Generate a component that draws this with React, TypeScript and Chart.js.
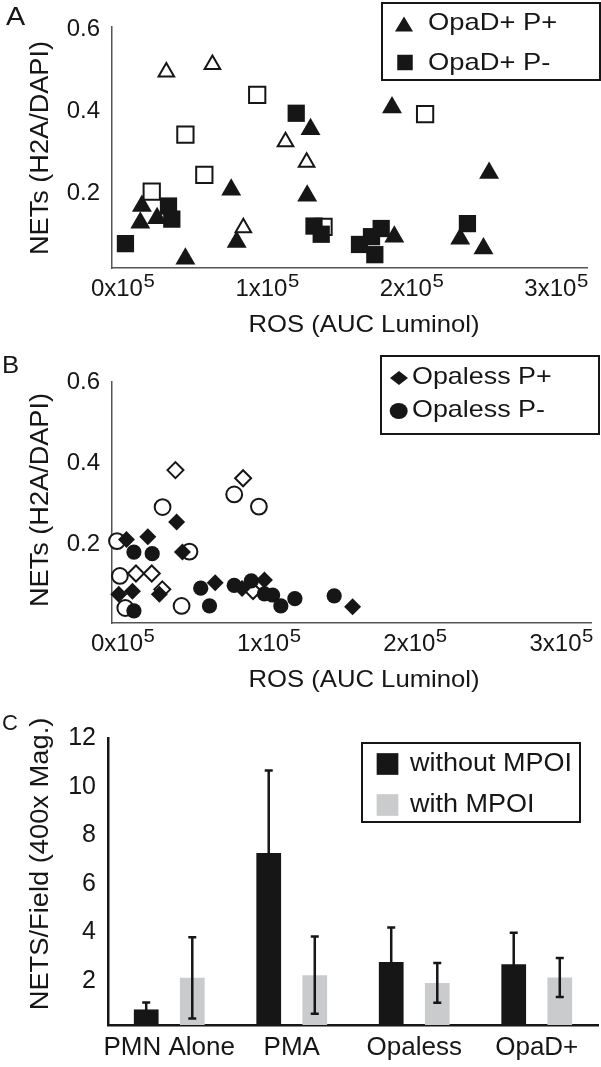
import React, { useEffect, useRef } from 'react';
import { Chart, registerables } from 'chart.js';

Chart.register(...registerables);

const FONT_FAMILY = '"Liberation Sans", Arial, Helvetica, sans-serif';
const INK = '#161616';
const AXIS_GRAY = '#555555';
const BAR_GRAY = '#cacbcc';

// ---------------- Panel A: OpaD+ (ROS vs NETs) ----------------
const opadPPlusLabel = 'OpaD+ P+';
const opadPPlusRos = [17300, 16200, 27800, 79100, 82900, 47400, 134000, 131700, 190400, 192000, 257600, 237600, 253700];
const opadPPlusNets = [0.168, 0.127, 0.138, 0.208, 0.080, 0.039, 0.356, 0.193, 0.409, 0.093, 0.249, 0.088, 0.064];
const opadPPlusOpenRos = [34200, 66100, 87500, 116700, 131300];
const opadPPlusOpenNets = [0.496, 0.514, 0.115, 0.325, 0.275];
const opadPMinusLabel = 'OpaD+ P-';
const opadPMinusRos = [5900, 35700, 38000, 124100, 136400, 141400, 167900, 176200, 182900, 178500, 242600];
const opadPMinusNets = [0.076, 0.168, 0.136, 0.395, 0.119, 0.099, 0.074, 0.093, 0.113, 0.049, 0.125];
const opadPMinusOpenRos = [97100, 47400, 60500, 24100, 213300, 143000];
const opadPMinusOpenNets = [0.440, 0.343, 0.244, 0.203, 0.393, 0.117];

// ---------------- Panel B: Opaless (ROS vs NETs) ----------------
const opalessPPlusLabel = 'Opaless P+';
const opalessPPlusRos = [6500, 21100, 40800, 44800, 1200, 10600, 29000, 67200, 85600, 100900, 161200];
const opalessPPlusNets = [0.213, 0.220, 0.256, 0.182, 0.078, 0.085, 0.078, 0.106, 0.092, 0.113, 0.047];
const opalessPPlusOpenRos = [40000, 86300, 13000, 23800, 31000, 93100];
const opalessPPlusOpenNets = [0.384, 0.364, 0.129, 0.129, 0.090, 0.086];
const opalessPMinusLabel = 'Opaless P-';
const opalessPMinusRos = [11600, 24100, 11600, 57300, 63300, 80200, 91900, 100900, 106500, 112100, 121700, 148600];
const opalessPMinusNets = [0.182, 0.178, 0.037, 0.093, 0.049, 0.100, 0.111, 0.079, 0.076, 0.049, 0.067, 0.074];
const opalessPMinusOpenRos = [0, 31200, 80200, 97100, 2000, 5700, 44200, 49600];
const opalessPMinusOpenNets = [0.209, 0.293, 0.324, 0.294, 0.123, 0.044, 0.049, 0.183];

const scatterYTicks = [0.2, 0.4, 0.6];
const rosTicks = [0, 100000, 200000, 300000];
const rosExponent = '5';
const rosTitle = 'ROS (AUC Luminol)';
const netsTitle = 'NETs (H2A/DAPI)';

// ---------------- Panel C: NETs per field ----------------
const barCategories = ['PMN Alone', 'PMA', 'Opaless', 'OpaD+'];
const withoutMpoiLabel = 'without MPOI';
const withoutMpoi = [0.84, 7.27, 2.79, 2.70];
const withoutMpoiErr = [0.29, 3.39, 1.42, 1.29];
const withMpoiLabel = 'with MPOI';
const withMpoi = [2.14, 2.25, 1.93, 2.15];
const withMpoiErr = [1.67, 1.59, 0.82, 0.80];
const barYTicks = [2, 4, 6, 8, 10, 12];
const barYTitle = 'NETS/Field (400x Mag.)';

// ---------------- drawing helpers ----------------
function drawText(ctx: any, text: string, x: number, y: number, size: number, sx: number,
  rot: number, align: string, baseline: string) {
  ctx.save();
  ctx.translate(x, y);
  ctx.rotate(rot);
  ctx.scale(sx, 1);
  ctx.font = `${size}px ${FONT_FAMILY}`;
  ctx.textAlign = align;
  ctx.textBaseline = baseline;
  ctx.fillStyle = INK;
  ctx.fillText(text, 0, 0);
  ctx.restore();
}

function drawMarker(ctx: any, shape: string, cx: number, cy: number, w: number, h: number, color: string) {
  ctx.save();
  ctx.fillStyle = color;
  ctx.beginPath();
  if (shape === 'triangle') {
    ctx.moveTo(cx, cy - h / 2);
    ctx.lineTo(cx + w / 2, cy + h / 2);
    ctx.lineTo(cx - w / 2, cy + h / 2);
  } else if (shape === 'diamond') {
    ctx.moveTo(cx, cy - h / 2);
    ctx.lineTo(cx + w / 2, cy);
    ctx.lineTo(cx, cy + h / 2);
    ctx.lineTo(cx - w / 2, cy);
  } else if (shape === 'circle') {
    ctx.ellipse(cx, cy, w / 2, h / 2, 0, 0, Math.PI * 2);
  } else {
    ctx.rect(cx - w / 2, cy - h / 2, w, h);
  }
  ctx.closePath();
  ctx.fill();
  ctx.restore();
}

function decorPlugin(spec: any) {
  return {
    id: 'decor',
    afterDraw(chart: any) {
      const ctx = chart.ctx;
      const L = spec.letter;
      drawText(ctx, L.text, L.x, L.y, L.size, L.sx, 0, 'left', 'alphabetic');
      const yt = spec.yTitle;
      drawText(ctx, yt.text, yt.x, yt.y, yt.size, yt.sx, -Math.PI / 2, 'center', 'middle');
      if (spec.xTitle) {
        const xt = spec.xTitle;
        drawText(ctx, xt.text, xt.x, xt.y, xt.size, xt.sx, 0, 'center', 'middle');
      }
      if (spec.superscripts) {
        // exponent of the "Nx10" tick labels, placed after each native tick label
        const xs = chart.scales.x;
        const base = chart.chartArea.bottom;
        ctx.save();
        ctx.font = `24px ${FONT_FAMILY}`;
        xs.ticks.forEach((t: any) => {
          const main = `${t.value / 100000}x10`;
          const w = ctx.measureText(main).width;
          drawText(ctx, rosExponent, xs.getPixelForValue(t.value) + w / 2 + 0.5, base + 19, 18.5, 1.1, 0, 'left', 'alphabetic');
        });
        ctx.restore();
      }
      const lg = spec.legend;
      ctx.save();
      ctx.fillStyle = '#ffffff';
      ctx.fillRect(lg.box[0], lg.box[1], lg.box[2], lg.box[3]);
      ctx.lineWidth = lg.lineWidth;
      ctx.strokeStyle = INK;
      ctx.strokeRect(lg.box[0], lg.box[1], lg.box[2], lg.box[3]);
      ctx.restore();
      lg.items.forEach((it: any) => {
        drawMarker(ctx, it.shape, it.cx, it.cy, it.w, it.h, it.color);
        drawText(ctx, it.text, lg.textX, it.ty, lg.size, lg.sx, 0, 'left', 'middle');
      });
    },
  };
}

function makeSeries(label: string, ros: number[], nets: number[], style: string, radius: number, filled: boolean) {
  return {
    label,
    data: ros.map((x, i) => ({ x, y: nets[i] })),
    pointStyle: style,
    pointRadius: radius,
    pointHoverRadius: radius,
    pointBackgroundColor: filled ? INK : '#ffffff',
    pointBorderColor: INK,
    pointBorderWidth: filled ? 0 : 2,
    clip: false,
  };
}

function makeScatter(canvas: HTMLCanvasElement, spec: any) {
  return new Chart(canvas, {
    type: 'scatter',
    data: { datasets: spec.datasets },
    options: {
      responsive: false,
      animation: false,
      events: [],
      layout: { padding: { top: spec.padTop, right: spec.padRight, left: 0, bottom: 0 } },
      plugins: { legend: { display: false }, tooltip: { enabled: false } },
      scales: {
        x: {
          type: 'linear',
          min: spec.xMin,
          max: spec.xMax,
          afterBuildTicks: (a: any) => { a.ticks = rosTicks.map((value) => ({ value })); },
          afterFit: (a: any) => { a.height = spec.xAxisHeight; },
          grid: { display: false, drawTicks: false },
          border: { display: true, color: AXIS_GRAY, width: 1.5 },
          ticks: {
            padding: 7,
            color: INK,
            maxRotation: 0,
            autoSkip: false,
            font: { family: FONT_FAMILY, size: 24 },
            callback: (v: any) => `${Number(v) / 100000}x10`,
          },
        },
        y: {
          type: 'linear',
          min: spec.yMin,
          max: spec.yMax,
          afterBuildTicks: (a: any) => { a.ticks = scatterYTicks.map((value) => ({ value })); },
          afterFit: (a: any) => { a.width = 112; },
          grid: { display: false, drawTicks: false },
          border: { display: true, color: AXIS_GRAY, width: 1.5 },
          ticks: {
            padding: 12,
            color: INK,
            font: { family: FONT_FAMILY, size: 24 },
            callback: (v: any) => Number(v).toFixed(1),
          },
        },
      },
    } as any,
    plugins: [decorPlugin(spec.decor)],
  } as any);
}

const errorBarPlugin = {
  id: 'errorBars',
  afterDatasetsDraw(chart: any) {
    const ctx = chart.ctx;
    const yScale = chart.scales.y;
    chart.data.datasets.forEach((ds: any, di: number) => {
      const meta = chart.getDatasetMeta(di);
      meta.data.forEach((bar: any, i: number) => {
        const v = ds.data[i];
        const e = ds.errors[i];
        const top = yScale.getPixelForValue(v + e);
        const bot = yScale.getPixelForValue(v - e);
        ctx.save();
        ctx.strokeStyle = INK;
        ctx.lineWidth = 2.5;
        ctx.beginPath();
        ctx.moveTo(bar.x, top);
        ctx.lineTo(bar.x, bot);
        ctx.moveTo(bar.x - 4, top);
        ctx.lineTo(bar.x + 4, top);
        ctx.moveTo(bar.x - 4, bot);
        ctx.lineTo(bar.x + 4, bot);
        ctx.stroke();
        ctx.restore();
      });
    });
  },
};

function makeBars(canvas: HTMLCanvasElement) {
  return new Chart(canvas, {
    type: 'bar',
    data: {
      labels: barCategories,
      datasets: [
        { label: withoutMpoiLabel, data: withoutMpoi, errors: withoutMpoiErr, backgroundColor: INK,
          barPercentage: 0.537, categoryPercentage: 0.752 },
        { label: withMpoiLabel, data: withMpoi, errors: withMpoiErr, backgroundColor: BAR_GRAY,
          barPercentage: 0.537, categoryPercentage: 0.752 },
      ],
    },
    options: {
      responsive: false,
      animation: false,
      events: [],
      layout: { padding: { top: 38, right: 3, left: 0, bottom: 0 } },
      plugins: { legend: { display: false }, tooltip: { enabled: false } },
      scales: {
        x: {
          afterFit: (a: any) => { a.height = 42; },
          grid: { display: false, drawTicks: false },
          border: { display: true, color: INK, width: 2.5 },
          ticks: { padding: 7, color: INK, maxRotation: 0, autoSkip: false, font: { family: FONT_FAMILY, size: 26 } },
        },
        y: {
          min: 0.2,
          max: 12,
          afterBuildTicks: (a: any) => { a.ticks = barYTicks.map((value) => ({ value })); },
          afterFit: (a: any) => { a.width = 108; },
          grid: { display: false, drawTicks: false },
          border: { display: true, color: INK, width: 2.5 },
          ticks: { padding: 12, color: INK, font: { family: FONT_FAMILY, size: 25 } },
        },
      },
    } as any,
    plugins: [
      errorBarPlugin,
      decorPlugin({
        letter: { text: 'C', x: 2, y: 30, size: 22, sx: 1.0 },
        yTitle: { text: barYTitle, x: 41, y: 164, size: 25.5, sx: 1.07 },
        legend: {
          box: [362, 43, 218, 79], lineWidth: 2, textX: 410, size: 25, sx: 1.08,
          items: [
            { text: withoutMpoiLabel, shape: 'rect', cx: 387.5, cy: 64, w: 21.7, h: 21.7, color: INK, ty: 64 },
            { text: withMpoiLabel, shape: 'rect', cx: 387.5, cy: 105, w: 21.7, h: 21.7, color: BAR_GRAY, ty: 105 },
          ],
        },
      }),
    ],
  } as any);
}

export default function App() {
  const aRef = useRef<HTMLCanvasElement>(null);
  const bRef = useRef<HTMLCanvasElement>(null);
  const cRef = useRef<HTMLCanvasElement>(null);

  useEffect(() => {
    const chartA = makeScatter(aRef.current as HTMLCanvasElement, {
      datasets: [
        makeSeries(opadPPlusLabel, opadPPlusRos, opadPPlusNets, 'triangle', 11.5, true),
        makeSeries(opadPMinusLabel, opadPMinusRos, opadPMinusNets, 'rect', 12.2, true),
        makeSeries(opadPPlusLabel + ' (open)', opadPPlusOpenRos, opadPPlusOpenNets, 'triangle', 9, false),
        makeSeries(opadPMinusLabel + ' (open)', opadPMinusOpenRos, opadPMinusOpenNets, 'rect', 11.5, false),
      ],
      padTop: 15, padRight: 1, xAxisHeight: 77,
      xMin: -3400, xMax: 325700, yMin: 0.0164, yMax: 0.6075,
      decor: {
        letter: { text: 'A', x: 6, y: 25, size: 25, sx: 1.15 },
        yTitle: { text: netsTitle, x: 41, y: 148, size: 25, sx: 1.085 },
        xTitle: { text: rosTitle, x: 364, y: 325, size: 24, sx: 1.07 },
        superscripts: true,
        legend: {
          box: [382, 3, 218, 77], lineWidth: 2, textX: 428, size: 24, sx: 1.14,
          items: [
            { text: opadPPlusLabel, shape: 'triangle', cx: 404, cy: 24, w: 18, h: 15, color: INK, ty: 23 },
            { text: opadPMinusLabel, shape: 'rect', cx: 405, cy: 62.5, w: 15.5, h: 15.5, color: INK, ty: 63 },
          ],
        },
      },
    });
    const chartB = makeScatter(bRef.current as HTMLCanvasElement, {
      datasets: [
        makeSeries(opalessPPlusLabel, opalessPPlusRos, opalessPPlusNets, 'rectRot', 8.5, true),
        makeSeries(opalessPMinusLabel, opalessPMinusRos, opalessPMinusNets, 'circle', 7.6, true),
        makeSeries(opalessPPlusLabel + ' (open)', opalessPPlusOpenRos, opalessPPlusOpenNets, 'rectRot', 8, false),
        makeSeries(opalessPMinusLabel + ' (open)', opalessPMinusOpenRos, opalessPMinusOpenNets, 'circle', 7.9, false),
      ],
      padTop: 13, padRight: 3, xAxisHeight: 77,
      xMin: -3400, xMax: 324300, yMin: 0.007, yMax: 0.6028,
      decor: {
        letter: { text: 'B', x: 2, y: 18, size: 24.5, sx: 1.05 },
        yTitle: { text: netsTitle, x: 41, y: 145, size: 25, sx: 1.085 },
        xTitle: { text: rosTitle, x: 364, y: 325, size: 24, sx: 1.07 },
        superscripts: true,
        legend: {
          box: [381, 1, 218, 78], lineWidth: 2, textX: 412, size: 24, sx: 1.12,
          items: [
            { text: opalessPPlusLabel, shape: 'diamond', cx: 399, cy: 23, w: 18, h: 14, color: INK, ty: 22 },
            { text: opalessPMinusLabel, shape: 'circle', cx: 398.7, cy: 56, w: 18, h: 16, color: INK, ty: 55 },
          ],
        },
      },
    });
    const chartC = makeBars(cRef.current as HTMLCanvasElement);
    return () => {
      chartA.destroy();
      chartB.destroy();
      chartC.destroy();
    };
  }, []);

  return (
    <div style={{ position: 'absolute', left: 0, top: 0, width: 601, height: 1067, background: '#ffffff' }}>
      <canvas ref={aRef} width={601} height={345} style={{ position: 'absolute', left: 0, top: 0 }} />
      <canvas ref={bRef} width={601} height={345} style={{ position: 'absolute', left: 0, top: 355 }} />
      <canvas ref={cRef} width={601} height={367} style={{ position: 'absolute', left: 0, top: 700 }} />
    </div>
  );
}
